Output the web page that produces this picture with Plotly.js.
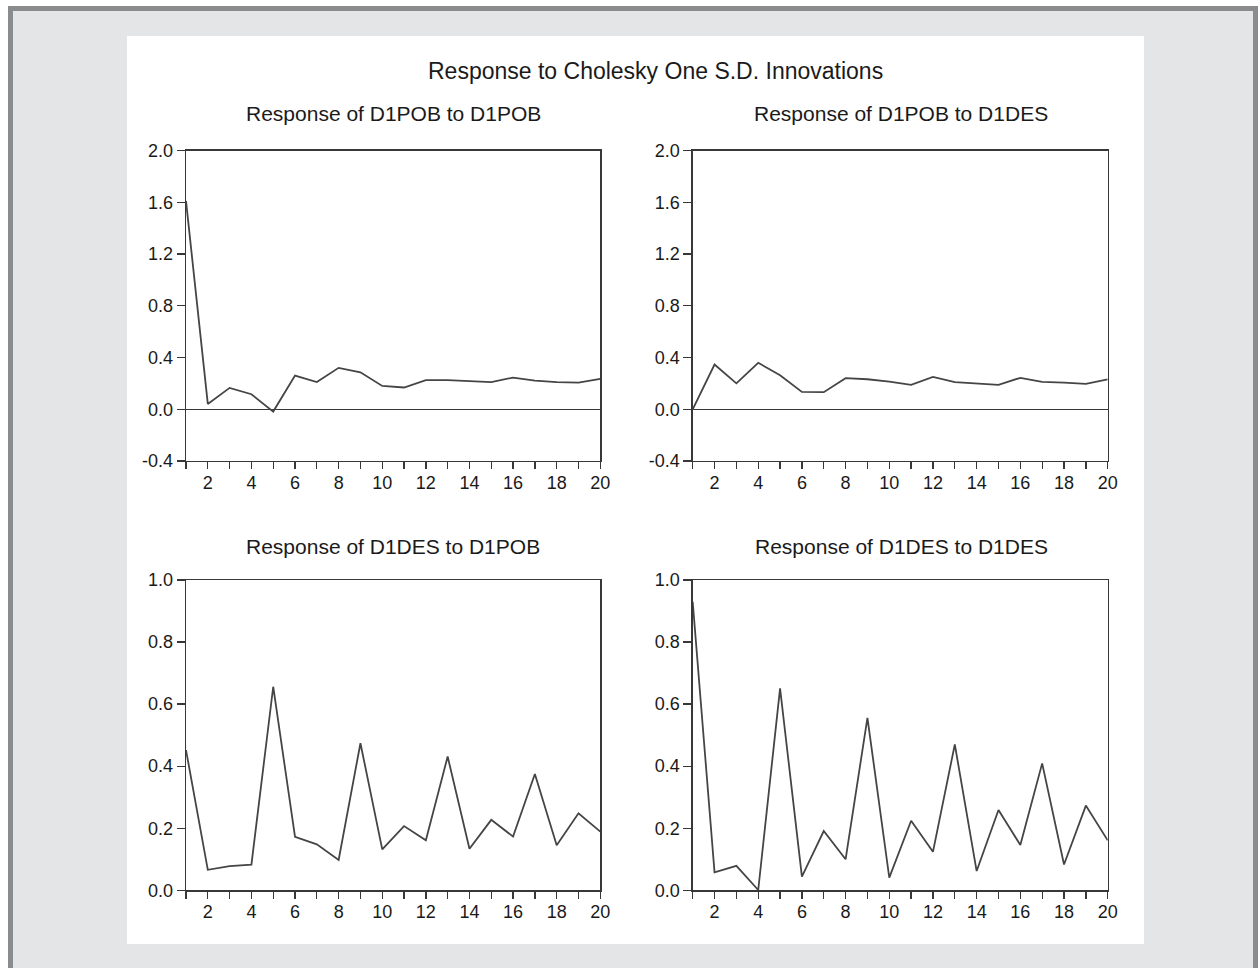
<!DOCTYPE html>
<html>
<head>
<meta charset="utf-8">
<script src="https://cdn.plot.ly/plotly-3.0.1.min.js"></script>
<style>html,body{margin:0;padding:0;background:#fff;}#chart{width:1258px;height:968px;}</style>
</head>
<body>
<div id="chart"></div>
<script>
// ---- data ----
const periods = [1,2,3,4,5,6,7,8,9,10,11,12,13,14,15,16,17,18,19,20];
const xTickLabels = ["","2","","4","","6","","8","","10","","12","","14","","16","","18","","20"];

const pobToPob = [1.61,0.041,0.165,0.116,-0.018,0.26,0.21,0.32,0.286,0.18,0.168,0.225,0.225,0.22,0.21,0.245,0.222,0.21,0.206,0.235];
const pobToDes = [0.0,0.346,0.20,0.359,0.263,0.134,0.132,0.24,0.232,0.214,0.188,0.25,0.209,0.196,0.188,0.243,0.212,0.206,0.196,0.23];
const desToPob = [0.452,0.066,0.078,0.083,0.656,0.172,0.148,0.098,0.474,0.132,0.207,0.161,0.431,0.134,0.227,0.173,0.375,0.145,0.248,0.189];
const desToDes = [0.930,0.058,0.079,0.001,0.651,0.044,0.191,0.100,0.556,0.041,0.224,0.124,0.470,0.062,0.259,0.146,0.409,0.083,0.273,0.161];

const topYTicks = [-0.4,0.0,0.4,0.8,1.2,1.6,2.0];
const topYLabels = ["-0.4","0.0","0.4","0.8","1.2","1.6","2.0"];
const botYTicks = [0.0,0.2,0.4,0.6,0.8,1.0];
const botYLabels = ["0.0","0.2","0.4","0.6","0.8","1.0"];

const mainTitle = "Response to Cholesky One S.D. Innovations";
const panelTitles = ["Response of D1POB to D1POB","Response of D1POB to D1DES","Response of D1DES to D1POB","Response of D1DES to D1DES"];

// ---- layout helpers ----
const W = 1258, H = 968;
const px = v => v / W;
const py = v => 1 - v / H;
const FONT = "Arial, Liberation Sans, sans-serif";
const AX = "#383838";
const LINE = "#454545";
const TXT = "#1a1a1a";

function trace(y, xa, ya) {
  return {x: periods, y: y, xaxis: xa, yaxis: ya, type: "scatter", mode: "lines",
    line: {color: LINE, width: 1.8}, hoverinfo: "skip", showlegend: false};
}
function xax(d0, d1, anchor) {
  return {domain: [px(d0), px(d1)], anchor: anchor, range: [1, 20], tickmode: "array",
    tickvals: periods, ticktext: xTickLabels, ticks: "outside", ticklen: 7, tickwidth: 1.3,
    tickcolor: AX, showline: true, linecolor: AX, linewidth: 1.4, mirror: true,
    ticklabelstandoff: -2,
    showgrid: false, zeroline: false, tickfont: {family: FONT, size: 18, color: TXT}};
}
function yax(d0, d1, anchor, rng, tv, tt, zl) {
  return {domain: [py(d1), py(d0)], anchor: anchor, range: rng, tickmode: "array",
    tickvals: tv, ticktext: tt, ticks: "outside", ticklen: 8, tickwidth: 1.3,
    tickcolor: AX, showline: true, linecolor: AX, linewidth: 1.4, mirror: true,
    showgrid: false, zeroline: zl, zerolinecolor: AX, zerolinewidth: 1.3,
    tickfont: {family: FONT, size: 18, color: TXT}};
}

const data = [
  trace(pobToPob, "x", "y"),
  trace(pobToDes, "x2", "y2"),
  trace(desToPob, "x3", "y3"),
  trace(desToDes, "x4", "y4")
];

function ann(text, xc, yc, size) {
  return {text: text, xref: "paper", yref: "paper", x: px(xc), y: py(yc), xanchor: "center",
    yanchor: "middle", showarrow: false, font: {family: FONT, size: size, color: TXT}};
}

const layout = {
  width: W, height: H, margin: {l: 0, r: 0, t: 0, b: 0},
  paper_bgcolor: "#ffffff", plot_bgcolor: "#ffffff", showlegend: false,
  xaxis: xax(186, 600.3, "y"),
  yaxis: yax(150.5, 461, "x", [-0.4, 2.0], topYTicks, topYLabels, true),
  xaxis2: xax(692.7, 1107.7, "y2"),
  yaxis2: yax(150.5, 461, "x2", [-0.4, 2.0], topYTicks, topYLabels, true),
  xaxis3: xax(186, 600.3, "y3"),
  yaxis3: yax(580, 890.3, "x3", [0, 1.0], botYTicks, botYLabels, false),
  xaxis4: xax(692.7, 1107.7, "y4"),
  yaxis4: yax(580, 890.3, "x4", [0, 1.0], botYTicks, botYLabels, false),
  shapes: [
    {type: "rect", xref: "paper", yref: "paper", layer: "below",
      x0: px(10.5), x1: px(1255.5), y0: py(1010), y1: py(8.5),
      fillcolor: "#e4e5e7", line: {color: "#8a8b8d", width: 5}},
    {type: "rect", xref: "paper", yref: "paper", layer: "below",
      x0: px(127), x1: px(1144), y0: py(944), y1: py(36),
      fillcolor: "#ffffff", line: {width: 0}}
  ],
  annotations: [
    ann(mainTitle, 655, 71, 23),
    ann(panelTitles[0], 393, 113, 21),
    ann(panelTitles[1], 901, 113, 21),
    ann(panelTitles[2], 393, 546, 21),
    ann(panelTitles[3], 901, 546, 21)
  ]
};

Plotly.newPlot("chart", data, layout, {staticPlot: true, displayModeBar: false});
</script>
</body>
</html>
